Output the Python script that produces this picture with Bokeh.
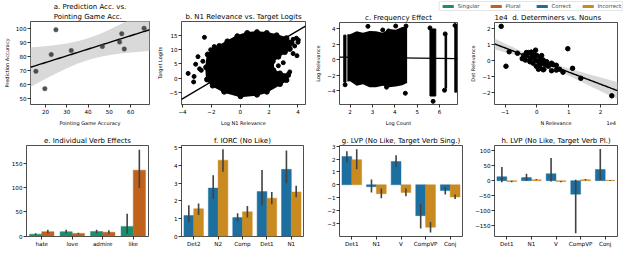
import numpy as np
from bokeh.plotting import figure
from bokeh.layouts import row, column
from bokeh.models import (Range1d, FactorRange, FixedTicker, ColumnDataSource)
from bokeh.transform import dodge
from bokeh.embed import file_html
from bokeh.resources import INLINE

FONT = "DejaVu Sans"
NB = "\u00a0"

# ---------------- data ----------------
# a. Prediction Acc. vs. Pointing Game Acc.
a_point_acc = [15.5, 19.7, 22.7, 24.9, 32.1, 46.7, 54.8, 55.8, 57.0, 66.3]
a_pred_acc = [69.3, 57.0, 81.3, 98.9, 84.1, 87.0, 90.2, 96.1, 85.2, 100.0]
a_xticks = [20, 30, 40, 50, 60]
a_yticks = [50, 60, 70, 80, 90, 100]

# b. N1 Relevance vs. Target Logits (dense cloud outline + sparse outliers)
b_cloud_x = [-2.25, -1.91, -1.45, -0.89, -0.2, 0.48, 1.16, 1.84, 2.52, 3.2, 3.55, 3.43, 3.09,
             2.64, 2.25, 2.3, 2.75, 3.32, 3.2, 2.75, 1.84, 1.16, 0.02, -1.11, -1.91, -2.3, -2.36]
b_cloud_y = [8.25, 9.63, 11.2, 12.8, 14.6, 15.7, 16.0, 15.7, 14.9, 13.9, 12.3, 10.2, 9.1,
             7.5, 5.9, 2.75, 1.7, 1.16, -0.63, -2.0, -4.66, -5.7, -6.24, -4.66, -2.54, -0.42, 3.8]
b_out_x = [-2.48, -2.93, -3.09, -2.82, -3.61, -3.2, -3.23, -2.7, -2.59, -1.16, 3.66, 3.89,
           4.02, 4.0, 3.77, 3.93, 3.66, 2.98, 2.64, 3.43, -1.8, -2.05]
b_out_y = [14.2, 7.5, 4.87, 3.28, 1.69, 0.63, -1.27, 2.75, 5.9, -4.34, 13.5, 13.9,
           13.3, 12.5, 11.2, 7.83, 8.57, 5.4, 4.34, 2.22, 11.0, 9.9]
b_fit = (4.75, 2.96)  # intercept, slope
b_xticks = [-4, -2, 0, 2, 4]
b_yticks = [-5, 0, 5, 10, 15]

# c. Frequency Effect
c_main_x = [1.88, 2.0, 2.3, 2.58, 2.87, 3.16, 3.46, 3.75, 4.04, 4.33, 4.55]
c_main_hi = [3.3, 3.3, 3.7, 3.5, 3.75, 3.7, 3.5, 4.0, 3.9, 4.25, 4.25]
c_main_lo = [-2.8, -2.77, -3.36, -3.16, -3.55, -3.55, -3.36, -3.55, -3.48, -3.3, -3.0]
c_strip_x = [1.77, 5.7, 6.28, 6.72]
c_strip_w = [0.1, 0.26, 0.07, 0.08]
c_strip_hi = [3.2, 4.0, 3.3, 4.3]
c_strip_lo = [-2.9, -4.7, -3.7, -4.2]
c_out_x = [2.8, 3.46, 3.72, 4.04, 4.5, 4.47, 1.78, 5.71, 5.57, 6.69, 6.25, 6.22, 3.63]
c_out_y = [4.34, 3.87, 3.75, 4.38, 4.38, -4.34, -3.24, -5.39, 4.14, 4.45, 3.36, -3.95, -3.55]
c_fit = (0.41, -0.038)
c_xticks = [2, 3, 4, 5, 6]
c_yticks = [-4, -2, 0, 2, 4]

# d. Determiners vs. Nouns (x and y in units of 1e4)
d_n_rel = [-1.12, -0.97, -0.87, -0.61, -0.46, -0.41, -0.36, -0.33, -0.31, -0.26, -0.22, -0.2,
           -0.18, -0.15, -0.12, -0.1, -0.1, -0.05, -0.04, -0.02, 0.0, 0.05, 0.05, 0.1, 0.1,
           0.1, 0.15, 0.15, 0.2, 0.2, 0.22, 0.26, 0.31, 0.36, 0.46, 0.46, 0.51, 0.61, 0.61,
           0.71, 0.82, 0.97, 1.12, 1.38, 2.35]
d_det_rel = [2.14, -0.34, 0.56, 0.47, 0.13, 0.32, 0.04, 0.51, 0.32, 0.51, -0.06, 0.13,
             0.54, 0.41, -0.15, 0.23, 0.51, 0.04, 0.66, -0.34, 0.32, -0.06, -0.53, 0.13, -0.28,
             -0.47, -0.15, 0.32, 0.04, -0.56, -0.53, -0.24, -0.06, -0.34, -0.15, -0.62, -0.24,
             -0.28, -0.58, -0.53, -0.71, 0.75, -0.47, -1.09, -2.18]
d_xticks = [-1, 0, 1, 2]
d_yticks = [-2, -1, 0, 1, 2]
d_scale_label = "1e4"

# e. Individual Verb Effects
e_verbs = ["hate", "love", "admire", "like"]
e_sing = [4, 9, 9.5, 20]
e_sing_lo = [2, 6, 6, 5]
e_sing_hi = [6, 13, 13, 46]
e_plur = [9, 5.5, 8, 136]
e_plur_lo = [6, 4, 5, 100]
e_plur_hi = [13, 7, 12, 178]
e_yticks = [0, 50, 100, 150]

# f. IORC (No Like)
f_pos = ["Det2", "N2", "Comp", "Det1", "N1"]
f_corr = [1.17, 2.72, 1.05, 2.52, 3.78]
f_corr_lo = [0.78, 2.1, 0.85, 1.75, 3.0]
f_corr_hi = [1.75, 3.45, 1.3, 3.75, 4.85]
f_inc = [1.55, 4.3, 1.38, 2.15, 2.5]
f_inc_lo = [1.2, 3.65, 1.05, 1.8, 2.2]
f_inc_hi = [1.85, 4.92, 1.7, 2.5, 2.85]
f_yticks = [0, 1, 2, 3, 4, 5]

# g. LVP (No Like, Target Verb Sing.)
g_pos = ["Det1", "N1", "V", "CompVP", "Conj"]
g_corr = [2.2, -0.15, 1.8, -2.4, -0.45]
g_corr_lo = [1.75, -0.6, 1.4, -3.4, -0.75]
g_corr_hi = [2.6, 0.4, 2.3, -1.5, -0.2]
g_inc = [1.95, -0.7, -0.6, -3.3, -0.95]
g_inc_lo = [1.2, -1.05, -0.9, -3.7, -1.1]
g_inc_hi = [2.75, -0.3, -0.3, -2.9, -0.75]
g_yticks = [-3, -2, -1, 0, 1, 2, 3]

# h. LVP (No Like, Target Verb Pl.)
h_pos = ["Det1", "N1", "V", "CompVP", "Conj"]
h_corr = [13, 10, 23, -45, 37]
h_corr_lo = [-5, 0, -3, -175, 2]
h_corr_hi = [45, 23, 75, 3, 105]
h_inc = [-3, 3, -3, 3, 1]
h_inc_lo = [-5, 2, -5, 1, 0]
h_inc_hi = [0, 5, -1, 5, 2]
h_yticks = [-150, -100, -50, 0, 50, 100]

series_names = ["Singular", "Plural", "Correct", "Incorrect"]
series_colors = ["#1a8f6f", "#bf621c", "#1d6fa0", "#c98a1f"]
ERR = "#424242"


# ---------------- helpers ----------------
def make_fig(w, h, l, r, t, b, xr, yr, title):
    p = figure(width=w, height=h, x_range=xr, y_range=yr, output_backend="svg",
               toolbar_location=None, min_border_left=l, min_border_right=r,
               min_border_top=t, min_border_bottom=b, title=title)
    p.title.text_font = FONT
    p.title.text_font_size = "7px"
    p.title.text_font_style = "normal"
    p.title.text_color = "black"
    p.title.align = "center"
    p.title.standoff = 1
    p.title.offset = 0
    p.grid.visible = False
    p.outline_line_color = "#222222"
    p.outline_line_width = 0.8
    p.background_fill_color = "white"
    p.border_fill_color = "white"
    for ax in p.axis:
        ax.axis_line_color = None
        ax.major_tick_out = 3
        ax.major_tick_in = 0
        ax.minor_tick_out = 0
        ax.minor_tick_in = 0
        ax.major_tick_line_color = "black"
        ax.major_tick_line_width = 0.8
        ax.major_label_text_font = FONT
        ax.major_label_text_font_size = "5.6px"
        ax.major_label_text_color = "black"
        ax.major_label_standoff = 1
        ax.axis_label_text_font = FONT
        ax.axis_label_text_font_size = "5px"
        ax.axis_label_text_font_style = "normal"
        ax.axis_label_text_color = "black"
        ax.axis_label_standoff = 3
    return p


def set_ticks(axis, ticks):
    axis.ticker = FixedTicker(ticks=ticks)
    axis.major_label_overrides = {t: "\u2212" + str(abs(t)) for t in ticks if t < 0}


def reg_band(x, y, xs, tval):
    x = np.asarray(x, float)
    y = np.asarray(y, float)
    n = len(x)
    b1, b0 = np.polyfit(x, y, 1)
    res = y - (b0 + b1 * x)
    s = np.sqrt((res ** 2).sum() / (n - 2))
    se = s * np.sqrt(1.0 / n + (xs - x.mean()) ** 2 / ((x - x.mean()) ** 2).sum())
    yhat = b0 + b1 * xs
    return yhat, yhat - tval * se, yhat + tval * se


def bars(p, cats, v1, lo1, hi1, v2, lo2, hi2, c1, c2):
    src = ColumnDataSource(dict(cat=cats, v1=v1, lo1=lo1, hi1=hi1, v2=v2, lo2=lo2, hi2=hi2))
    left = dodge("cat", -0.2, range=p.x_range)
    right = dodge("cat", 0.2, range=p.x_range)
    p.vbar(x=left, top="v1", width=0.4, source=src, fill_color=c1, line_color=c1,
           line_alpha=0.45, line_width=1)
    p.vbar(x=right, top="v2", width=0.4, source=src, fill_color=c2, line_color=c2,
           line_alpha=0.45, line_width=1)
    p.segment(x0=left, y0="lo1", x1=left, y1="hi1", source=src, line_color=ERR, line_width=1.6)
    p.segment(x0=right, y0="lo2", x1=right, y1="hi2", source=src, line_color=ERR, line_width=1.6)


# ---------------- a ----------------
a_xr = Range1d(12.96, 68.84)
pa = make_fig(152, 128, 26, 3, 20, 17, a_xr, Range1d(45.7, 104.8),
              "a. Prediction Acc. vs.\nPointing Game Acc.")
pa.title.text_line_height = 1.25
xs = np.linspace(a_xr.start, a_xr.end, 80)
yh, lo, hi = reg_band(a_point_acc, a_pred_acc, xs, 2.306)
pa.varea(x=xs, y1=lo, y2=hi, fill_color="#d9d9d9")
pa.line(xs, yh, line_color="black", line_width=1.4)
pa.scatter(a_point_acc, a_pred_acc, size=4.5, fill_color="#333333", line_color="#555555",
           line_width=0.5, fill_alpha=0.85)
set_ticks(pa.xaxis, a_xticks)
set_ticks(pa.yaxis, a_yticks)
pa.xaxis.axis_label = "Pointing Game Accuracy"
pa.yaxis.axis_label = "Prediction Accuracy"

# ---------------- b ----------------
b_xr = Range1d(-4.07, 4.52)
pb = make_fig(156, 128, 29, 3, 20, 17, b_xr, Range1d(-9.1, 19.7),
              "b. N1 Relevance vs. Target Logits")
pb.patch(b_cloud_x, b_cloud_y, fill_color="black", line_color="black", line_width=2)
pb.scatter(b_cloud_x, b_cloud_y, size=5, fill_color="black", line_color="black")
pb.scatter(b_out_x, b_out_y, size=4, fill_color="black", line_color="black")
bx = np.linspace(b_xr.start, b_xr.end, 2)
pb.line(bx, b_fit[0] + b_fit[1] * bx, line_color="black", line_width=1.4)
set_ticks(pb.xaxis, b_xticks)
set_ticks(pb.yaxis, b_yticks)
pb.xaxis.axis_label = "Log N1 Relevance"
pb.yaxis.axis_label = "Target Logits"

# ---------------- c ----------------
c_xr = Range1d(1.53, 6.8)
pc = make_fig(152, 117, 31, 3, 9, 17, c_xr, Range1d(-5.8, 4.84), "c. Frequency Effect")
pc.varea(x=c_main_x, y1=c_main_lo, y2=c_main_hi, fill_color="black")
pc.vbar(x=c_strip_x, width=c_strip_w, top=c_strip_hi, bottom=c_strip_lo,
        fill_color="black", line_color="black")
pc.scatter(c_out_x, c_out_y, size=4, fill_color="black", line_color="black")
cx = np.linspace(c_xr.start, c_xr.end, 2)
pc.line(cx, c_fit[0] + c_fit[1] * cx, line_color="black", line_width=1.4)
set_ticks(pc.xaxis, c_xticks)
set_ticks(pc.yaxis, c_yticks)
pc.xaxis.axis_label = "Log Count"
pc.yaxis.axis_label = "Log Relevance"

# ---------------- d ----------------
d_xr = Range1d(-1.33, 2.53)
d_yr = Range1d(-2.72, 2.38)
pd_ = make_fig(164, 117, 34, 7, 9, 17, d_xr, d_yr,
               d_scale_label + NB * 2 + "d. Determiners vs. Nouns")
pd_.title.align = "left"
xs = np.linspace(d_xr.start, d_xr.end, 80)
yh, lo, hi = reg_band(d_n_rel, d_det_rel, xs, 2.017)
pd_.varea(x=xs, y1=lo, y2=hi, fill_color="#d9d9d9")
pd_.line(xs, yh, line_color="black", line_width=1.4)
pd_.scatter(d_n_rel, d_det_rel, size=4.5, fill_color="black", line_color="black")
set_ticks(pd_.xaxis, d_xticks)
set_ticks(pd_.yaxis, d_yticks)
# x label centred on the frame, with the 1e4 offset text pushed to the right end
pd_.xaxis.axis_label = NB * 28 + "N Relevance" + NB * 22 + d_scale_label
pd_.yaxis.axis_label = "Det Relevance"

# ---------------- legend strip ----------------
lg = figure(width=316, height=11, x_range=FactorRange(factors=series_names),
            y_range=Range1d(0, 1), output_backend="svg", toolbar_location=None,
            min_border=0, x_axis_location=None, y_axis_location=None)
lg.grid.visible = False
lg.outline_line_color = None
leg_src = ColumnDataSource(dict(name=series_names, color=series_colors,
                                zero=[0] * len(series_names)))
lg.vbar(x="name", top="zero", bottom="zero", width=0.5, fill_color="color", line_color=None,
        source=leg_src, legend_field="name")
leg = lg.legend[0]
leg.orientation = "horizontal"
leg.location = "top_right"
leg.margin = 1
leg.padding = 1
leg.spacing = 9
leg.glyph_width = 14
leg.glyph_height = 4
leg.label_standoff = 3
leg.label_text_font = FONT
leg.label_text_font_size = "5.3px"
leg.label_height = 5
leg.border_line_color = "#cccccc"
leg.border_line_width = 0.8

# ---------------- bottom row ----------------
pe = make_fig(152, 122, 26, 4, 17, 14, FactorRange(factors=e_verbs), Range1d(-0.9, 187),
              "e. Individual Verb Effects")
bars(pe, e_verbs, e_sing, e_sing_lo, e_sing_hi, e_plur, e_plur_lo, e_plur_hi,
     series_colors[0], series_colors[1])
set_ticks(pe.yaxis, e_yticks)

pf = make_fig(156, 122, 29, 5, 17, 14, FactorRange(factors=f_pos), Range1d(-0.02, 5.13),
              "f. IORC (No Like)")
bars(pf, f_pos, f_corr, f_corr_lo, f_corr_hi, f_inc, f_inc_lo, f_inc_hi,
     series_colors[2], series_colors[3])
set_ticks(pf.yaxis, f_yticks)

pg = make_fig(156, 122, 31, 2, 17, 14, FactorRange(factors=g_pos), Range1d(-4.02, 3.05),
              "g. LVP (No Like, Target Verb Sing.)")
bars(pg, g_pos, g_corr, g_corr_lo, g_corr_hi, g_inc, g_inc_lo, g_inc_hi,
     series_colors[2], series_colors[3])
set_ticks(pg.yaxis, g_yticks)

ph = make_fig(160, 122, 30, 7, 17, 14, FactorRange(factors=h_pos), Range1d(-185.6, 116.7),
              "h. LVP (No Like, Target Verb Pl.)")
bars(ph, h_pos, h_corr, h_corr_lo, h_corr_hi, h_inc, h_inc_lo, h_inc_hi,
     series_colors[2], series_colors[3])
set_ticks(ph.yaxis, h_yticks)

top = row(pa, pb, column(lg, row(pc, pd_)))
bottom = row(pe, pf, pg, ph)
layout = column(top, bottom)

open("out.html", "w").write(file_html(layout, INLINE))
